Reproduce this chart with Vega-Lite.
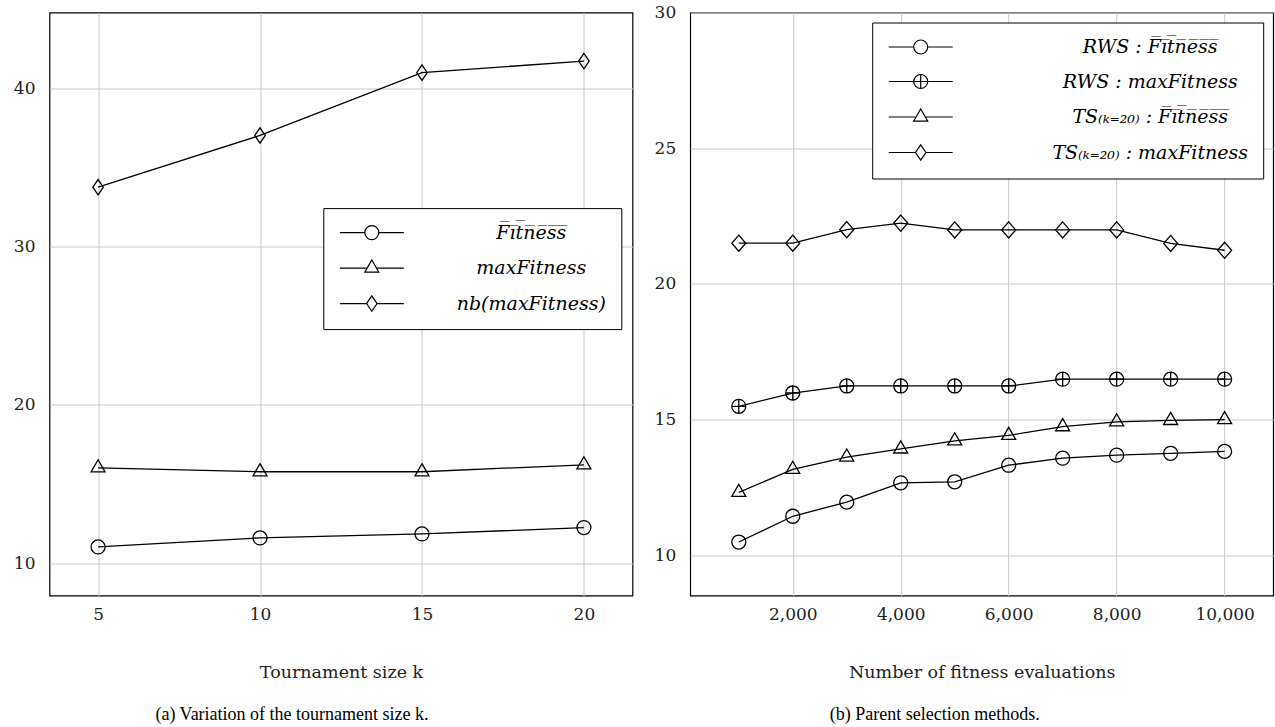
{
  "$schema": "https://vega.github.io/schema/vega-lite/v6.json",
  "background": "white",
  "padding": {"left": 12.5, "top": 2.5, "right": 0, "bottom": 0},
  "spacing": 57.7,
  "bounds": "flush",
  "datasets": {
    "left": [
      {"x": 5, "y": 11.03, "s": "F̅i̅t̅n̅e̅s̅s̅"},
      {"x": 10, "y": 11.6, "s": "F̅i̅t̅n̅e̅s̅s̅"},
      {"x": 15, "y": 11.85, "s": "F̅i̅t̅n̅e̅s̅s̅"},
      {"x": 20, "y": 12.25, "s": "F̅i̅t̅n̅e̅s̅s̅"},
      {"x": 5, "y": 16.03, "s": "maxFitness"},
      {"x": 10, "y": 15.78, "s": "maxFitness"},
      {"x": 15, "y": 15.78, "s": "maxFitness"},
      {"x": 20, "y": 16.22, "s": "maxFitness"},
      {"x": 5, "y": 33.76, "s": "nb(maxFitness)"},
      {"x": 10, "y": 37.03, "s": "nb(maxFitness)"},
      {"x": 15, "y": 41.0, "s": "nb(maxFitness)"},
      {"x": 20, "y": 41.73, "s": "nb(maxFitness)"}
    ],
    "right": [
      {"x": 1000, "y": 10.49, "s": "RWS : F̅i̅t̅n̅e̅s̅s̅"},
      {"x": 2000, "y": 11.44, "s": "RWS : F̅i̅t̅n̅e̅s̅s̅"},
      {"x": 3000, "y": 11.96, "s": "RWS : F̅i̅t̅n̅e̅s̅s̅"},
      {"x": 4000, "y": 12.67, "s": "RWS : F̅i̅t̅n̅e̅s̅s̅"},
      {"x": 5000, "y": 12.71, "s": "RWS : F̅i̅t̅n̅e̅s̅s̅"},
      {"x": 6000, "y": 13.32, "s": "RWS : F̅i̅t̅n̅e̅s̅s̅"},
      {"x": 7000, "y": 13.58, "s": "RWS : F̅i̅t̅n̅e̅s̅s̅"},
      {"x": 8000, "y": 13.69, "s": "RWS : F̅i̅t̅n̅e̅s̅s̅"},
      {"x": 9000, "y": 13.76, "s": "RWS : F̅i̅t̅n̅e̅s̅s̅"},
      {"x": 10000, "y": 13.83, "s": "RWS : F̅i̅t̅n̅e̅s̅s̅"},
      {"x": 1000, "y": 15.49, "s": "RWS : maxFitness"},
      {"x": 2000, "y": 15.98, "s": "RWS : maxFitness"},
      {"x": 3000, "y": 16.24, "s": "RWS : maxFitness"},
      {"x": 4000, "y": 16.24, "s": "RWS : maxFitness"},
      {"x": 5000, "y": 16.24, "s": "RWS : maxFitness"},
      {"x": 6000, "y": 16.24, "s": "RWS : maxFitness"},
      {"x": 7000, "y": 16.49, "s": "RWS : maxFitness"},
      {"x": 8000, "y": 16.49, "s": "RWS : maxFitness"},
      {"x": 9000, "y": 16.49, "s": "RWS : maxFitness"},
      {"x": 10000, "y": 16.49, "s": "RWS : maxFitness"},
      {"x": 1000, "y": 12.32, "s": "TS₍ₖ₌₂₀₎ : F̅i̅t̅n̅e̅s̅s̅"},
      {"x": 2000, "y": 13.17, "s": "TS₍ₖ₌₂₀₎ : F̅i̅t̅n̅e̅s̅s̅"},
      {"x": 3000, "y": 13.62, "s": "TS₍ₖ₌₂₀₎ : F̅i̅t̅n̅e̅s̅s̅"},
      {"x": 4000, "y": 13.92, "s": "TS₍ₖ₌₂₀₎ : F̅i̅t̅n̅e̅s̅s̅"},
      {"x": 5000, "y": 14.22, "s": "TS₍ₖ₌₂₀₎ : F̅i̅t̅n̅e̅s̅s̅"},
      {"x": 6000, "y": 14.42, "s": "TS₍ₖ₌₂₀₎ : F̅i̅t̅n̅e̅s̅s̅"},
      {"x": 7000, "y": 14.74, "s": "TS₍ₖ₌₂₀₎ : F̅i̅t̅n̅e̅s̅s̅"},
      {"x": 8000, "y": 14.92, "s": "TS₍ₖ₌₂₀₎ : F̅i̅t̅n̅e̅s̅s̅"},
      {"x": 9000, "y": 14.97, "s": "TS₍ₖ₌₂₀₎ : F̅i̅t̅n̅e̅s̅s̅"},
      {"x": 10000, "y": 15.0, "s": "TS₍ₖ₌₂₀₎ : F̅i̅t̅n̅e̅s̅s̅"},
      {"x": 1000, "y": 21.5, "s": "TS₍ₖ₌₂₀₎ : maxFitness"},
      {"x": 2000, "y": 21.5, "s": "TS₍ₖ₌₂₀₎ : maxFitness"},
      {"x": 3000, "y": 22.0, "s": "TS₍ₖ₌₂₀₎ : maxFitness"},
      {"x": 4000, "y": 22.24, "s": "TS₍ₖ₌₂₀₎ : maxFitness"},
      {"x": 5000, "y": 21.99, "s": "TS₍ₖ₌₂₀₎ : maxFitness"},
      {"x": 6000, "y": 21.99, "s": "TS₍ₖ₌₂₀₎ : maxFitness"},
      {"x": 7000, "y": 21.99, "s": "TS₍ₖ₌₂₀₎ : maxFitness"},
      {"x": 8000, "y": 21.99, "s": "TS₍ₖ₌₂₀₎ : maxFitness"},
      {"x": 9000, "y": 21.49, "s": "TS₍ₖ₌₂₀₎ : maxFitness"},
      {"x": 10000, "y": 21.24, "s": "TS₍ₖ₌₂₀₎ : maxFitness"}
    ]
  },
  "resolve": {"scale": {"shape": "independent"}, "legend": {"shape": "independent"}},
  "hconcat": [
    {
      "width": 583,
      "height": 583,
      "data": {"name": "left"},
      "title": {"text": "(a)  Variation of the tournament size k.", "dx": -49},
      "encoding": {
        "x": {"field": "x", "type": "quantitative",
              "scale": {"domain": [3.5, 21.5], "nice": false, "zero": false},
              "axis": {"values": [5, 10, 15, 20], "title": "Tournament size k"}},
        "y": {"field": "y", "type": "quantitative",
              "scale": {"domain": [7.96, 44.8], "nice": false, "zero": false},
              "axis": {"values": [10, 20, 30, 40], "title": null}}
      },
      "layer": [
        {"mark": {"type": "line", "color": "black", "strokeWidth": 1.3}, "encoding": {"detail": {"field": "s"}}},
        {"transform": [{"filter": "datum.s == 'F̅i̅t̅n̅e̅s̅s̅'"}],
         "mark": {"type": "point", "shape": "circle", "size": 196, "filled": false, "color": "black", "strokeWidth": 1.3, "opacity": 1}},
        {"transform": [{"filter": "datum.s == 'maxFitness'"}],
         "mark": {"type": "point", "shape": "M0,-1.15L1,0.58L-1,0.58Z", "size": 196, "filled": false, "color": "black", "strokeWidth": 1.3, "opacity": 1}},
        {"transform": [{"filter": "datum.s == 'nb(maxFitness)'"}],
         "mark": {"type": "point", "shape": "M0,-1.1L0.75,0L0,1.1L-0.75,0Z", "size": 196, "filled": false, "color": "black", "strokeWidth": 1.3, "opacity": 1}},
        {"mark": {"type": "point", "size": 196, "filled": false, "color": "black", "opacity": 0},
         "encoding": {"shape": {"field": "s", "type": "nominal",
           "scale": {"domain": ["F̅i̅t̅n̅e̅s̅s̅", "maxFitness", "nb(maxFitness)"],
                     "range": [
                       "M-1.14,0L2.43,0M4.43,0L8,0M2.43,0A1,1,0,1,0,4.43,0A1,1,0,1,0,2.43,0Z",
                       "M-1.14,0L2.77,0M4.09,0L8,0M3.43,-1.15L4.43,0.58L2.43,0.58Z",
                       "M-1.14,0L2.68,0M4.18,0L8,0M3.43,-1.1L4.18,0L3.43,1.1L2.68,0Z"]},
           "legend": {"orient": "none", "legendX": 273.8, "legendY": 195.6, "labelOffset": 174}}}}
      ]
    },
    {
      "width": 583,
      "height": 583,
      "data": {"name": "right"},
      "title": {"text": "(b)  Parent selection methods.", "dx": -47},
      "encoding": {
        "x": {"field": "x", "type": "quantitative",
              "scale": {"domain": [100, 10900], "nice": false, "zero": false},
              "axis": {"values": [2000, 4000, 6000, 8000, 10000], "format": ",d", "title": "Number of fitness evaluations"}},
        "y": {"field": "y", "type": "quantitative",
              "scale": {"domain": [8.52, 30], "nice": false, "zero": false},
              "axis": {"values": [10, 15, 20, 25, 30], "title": null}}
      },
      "layer": [
        {"mark": {"type": "line", "color": "black", "strokeWidth": 1.3}, "encoding": {"detail": {"field": "s"}}},
        {"transform": [{"filter": "datum.s == 'RWS : F̅i̅t̅n̅e̅s̅s̅'"}],
         "mark": {"type": "point", "shape": "circle", "size": 196, "filled": false, "color": "black", "strokeWidth": 1.3, "opacity": 1}},
        {"transform": [{"filter": "datum.s == 'RWS : maxFitness'"}],
         "mark": {"type": "point", "shape": "M-1,0A1,1,0,1,0,1,0A1,1,0,1,0,-1,0ZM-1,0L1,0M0,-1L0,1", "size": 196, "filled": false, "color": "black", "strokeWidth": 1.3, "opacity": 1}},
        {"transform": [{"filter": "datum.s == 'TS₍ₖ₌₂₀₎ : F̅i̅t̅n̅e̅s̅s̅'"}],
         "mark": {"type": "point", "shape": "M0,-1.15L1,0.58L-1,0.58Z", "size": 196, "filled": false, "color": "black", "strokeWidth": 1.3, "opacity": 1}},
        {"transform": [{"filter": "datum.s == 'TS₍ₖ₌₂₀₎ : maxFitness'"}],
         "mark": {"type": "point", "shape": "M0,-1.15L1,0L0,1.15L-1,0Z", "size": 196, "filled": false, "color": "black", "strokeWidth": 1.3, "opacity": 1}},
        {"mark": {"type": "point", "size": 196, "filled": false, "color": "black", "opacity": 0},
         "encoding": {"shape": {"field": "s", "type": "nominal",
           "scale": {"domain": ["RWS : F̅i̅t̅n̅e̅s̅s̅", "RWS : maxFitness", "TS₍ₖ₌₂₀₎ : F̅i̅t̅n̅e̅s̅s̅", "TS₍ₖ₌₂₀₎ : maxFitness"],
                     "range": [
                       "M-1.14,0L2.43,0M4.43,0L8,0M2.43,0A1,1,0,1,0,4.43,0A1,1,0,1,0,2.43,0Z",
                       "M-1.14,0L2.43,0M4.43,0L8,0M2.43,0A1,1,0,1,0,4.43,0A1,1,0,1,0,2.43,0ZM2.43,0L4.43,0M3.43,-1L3.43,1",
                       "M-1.14,0L2.77,0M4.09,0L8,0M3.43,-1.15L4.43,0.58L2.43,0.58Z",
                       "M-1.14,0L2.68,0M4.18,0L8,0M3.43,-1.1L4.18,0L3.43,1.1L2.68,0Z"]},
           "legend": {"orient": "top-right", "offset": 10, "labelOffset": 244}}}}
      ]
    }
  ],
  "config": {
    "view": {"stroke": "black", "strokeWidth": 1.2},
    "axis": {
      "grid": true, "gridColor": "#c8c8c8", "gridWidth": 1,
      "domain": false, "ticks": false,
      "labelFont": "DejaVu Serif", "labelFontSize": 17, "labelColor": "#222222", "labelPadding": 11,
      "titleFont": "DejaVu Serif", "titleFontSize": 17.5, "titleFontWeight": "normal", "titleColor": "#222222", "titlePadding": 41
    },
    "axisY": {"labelPadding": 14.5},
    "legend": {
      "title": null,
      "strokeColor": "black", "strokeWidth": 1, "fillColor": "white",
      "padding": 15, "rowPadding": 14.5, "cornerRadius": 0,
      "symbolSize": 196, "symbolStrokeColor": "black", "symbolStrokeWidth": 1.2,
      "symbolFillColor": "transparent", "symbolOpacity": 1,
      "labelFont": "DejaVu Serif", "labelFontStyle": "italic", "labelFontSize": 19,
      "labelColor": "black", "labelAlign": "center", "labelLimit": 400
    },
    "title": {
      "orient": "bottom", "anchor": "middle", "font": "Liberation Serif",
      "fontSize": 18, "fontWeight": "normal", "color": "black", "offset": 24.5
    }
  }
}
